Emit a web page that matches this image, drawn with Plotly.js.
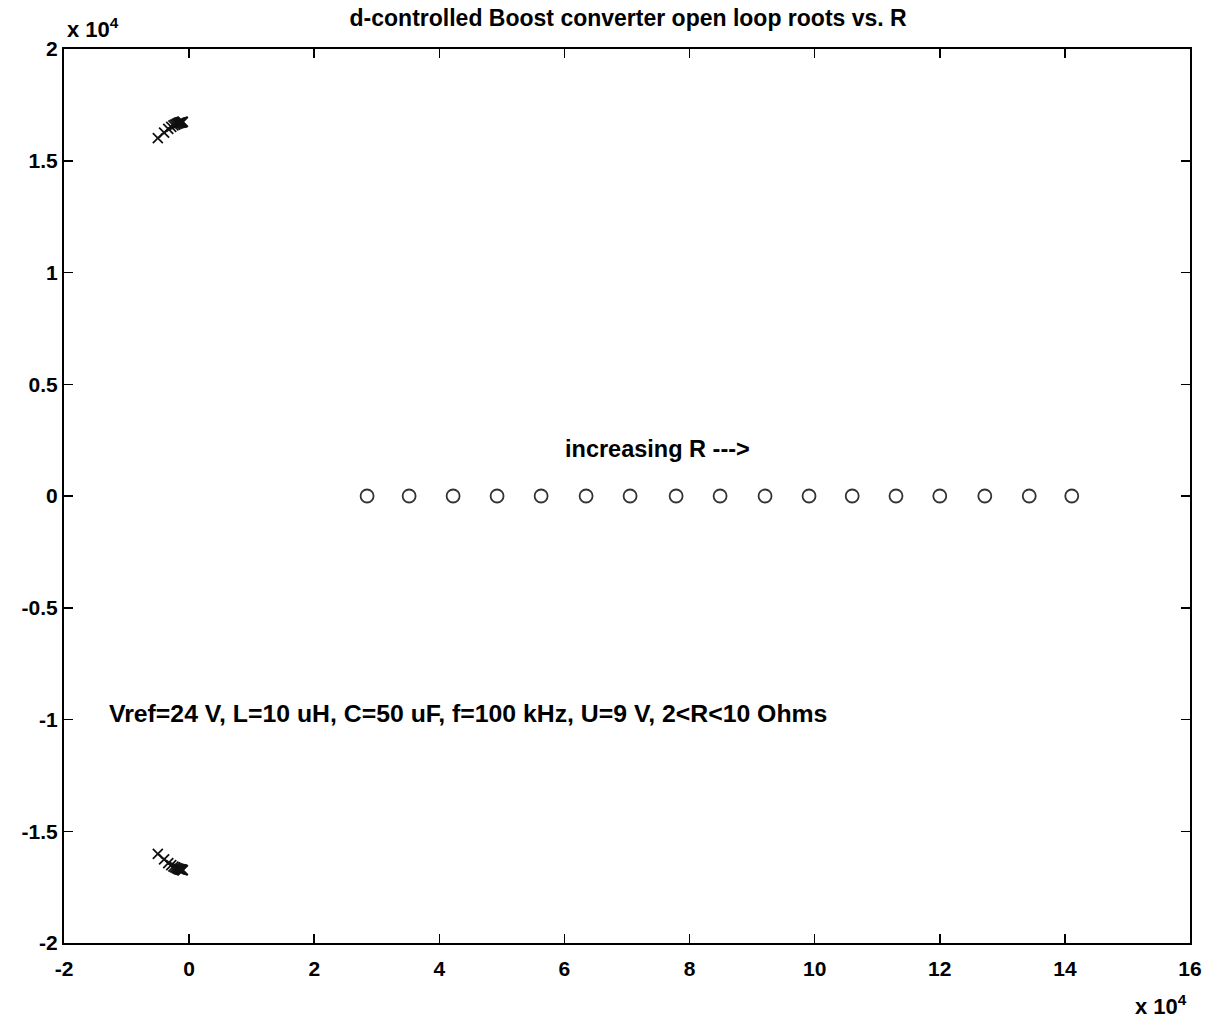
<!DOCTYPE html>
<html>
<head>
<meta charset="utf-8">
<script src="https://cdn.plot.ly/plotly-3.0.1.min.js"></script>
<style>html,body{margin:0;padding:0;background:#fff;}#chart{width:1215px;height:1024px;}</style>
</head>
<body>
<div id="chart"></div>
<script>
// Load resistance values R (Ohms), 2 to 10 in steps of 0.5
const R = [2, 2.5, 3, 3.5, 4, 4.5, 5, 5.5, 6, 6.5, 7, 7.5, 8, 8.5, 9, 9.5, 10];
// Open-loop poles (rad/s), upper branch; lower branch is the conjugate
const poleReal = [-5000, -4000, -3333, -2857, -2500, -2222, -2000, -1818, -1667, -1538, -1429, -1333, -1250, -1176, -1111, -1053, -1000];
const poleImag = [16010, 16260, 16430, 16520, 16580, 16620, 16650, 16670, 16690, 16700, 16710, 16720, 16720, 16730, 16730, 16740, 16740];
// Right-half-plane zeros (rad/s)
const zeroReal = [28450, 35170, 42200, 49230, 56270, 63460, 70490, 77850, 84880, 92070, 99100, 106000, 113000, 120000, 127200, 134300, 141100];
const zeroImag = [0, 0, 0, 0, 0, 0, 0, 0, 0, 0, 0, 0, 0, 0, 0, 0, 0];
// Axis ticks (in units of 1e4)
const xTickVals = [-20000, 0, 20000, 40000, 60000, 80000, 100000, 120000, 140000, 160000];
const xTickText = ['-2', '0', '2', '4', '6', '8', '10', '12', '14', '16'];
const yTickVals = [-20000, -15000, -10000, -5000, 0, 5000, 10000, 15000, 20000];
const yTickText = ['-2', '-1.5', '-1', '-0.5', '0', '0.5', '1', '1.5', '2'];

const FONT = 'Liberation Sans, Arial, sans-serif';
const TXT = {family: FONT, size: 22, color: '#000', weight: 'bold'};
const TICK = {family: FONT, size: 21, color: '#000', weight: 'bold'};

const traces = [
  {
    x: poleReal, y: poleImag, type: 'scatter', mode: 'markers',
    marker: {symbol: 'x-thin-open', size: 10, color: '#111', line: {width: 1.8, color: '#111'}},
    hoverinfo: 'x+y', showlegend: false
  },
  {
    x: poleReal, y: poleImag.map(v => -v), type: 'scatter', mode: 'markers',
    marker: {symbol: 'x-thin-open', size: 10, color: '#111', line: {width: 1.8, color: '#111'}},
    hoverinfo: 'x+y', showlegend: false
  },
  {
    x: zeroReal, y: zeroImag, type: 'scatter', mode: 'markers',
    marker: {symbol: 'circle-open', size: 13, color: '#333', line: {width: 1.8, color: '#333'}},
    hoverinfo: 'x+y', showlegend: false
  }
];

const layout = {
  width: 1215, height: 1024,
  margin: {l: 64, r: 25, t: 49, b: 81},
  paper_bgcolor: '#fff', plot_bgcolor: '#fff',
  font: TXT,
  title: {text: 'd-controlled Boost converter open loop roots vs. R', x: 0.517, xanchor: 'center', y: 0.982, yanchor: 'middle', font: Object.assign({}, TXT, {size: 23})},
  xaxis: {
    range: [-20000, 160000], tickmode: 'array', tickvals: xTickVals, ticktext: xTickText,
    showgrid: false, zeroline: false, showline: true, linecolor: '#000', linewidth: 2,
    mirror: 'ticks', ticks: 'inside', ticklen: 9, tickwidth: 1.5, tickcolor: '#000',
    ticklabelstandoff: 6, tickfont: TICK
  },
  yaxis: {
    range: [-20000, 20000], tickmode: 'array', tickvals: yTickVals, ticktext: yTickText,
    showgrid: false, zeroline: false, showline: true, linecolor: '#000', linewidth: 2,
    mirror: 'ticks', ticks: 'inside', ticklen: 9, tickwidth: 1.5, tickcolor: '#000',
    tickfont: TICK
  },
  annotations: [
    {text: 'x 10<sup>4</sup>', xref: 'paper', yref: 'paper', x: 0.001, y: 1.0, xanchor: 'left', yanchor: 'bottom', yshift: 5, showarrow: false, font: TXT},
    {text: 'x 10<sup>4</sup>', xref: 'paper', yref: 'paper', x: 0.999, y: 0, xanchor: 'right', yanchor: 'top', yshift: -46, showarrow: false, font: TXT},
    {text: 'increasing R --->', x: 59800, y: 2100, xref: 'x', yref: 'y', xanchor: 'left', yanchor: 'middle', showarrow: false, font: Object.assign({}, TXT, {size: 23.5})},
    {text: 'Vref=24 V, L=10 uH, C=50 uF, f=100 kHz, U=9 V, 2<R<10 Ohms', x: -13100, y: -9750, xref: 'x', yref: 'y', xanchor: 'left', yanchor: 'middle', showarrow: false, font: Object.assign({}, TXT, {size: 24.8})}
  ]
};

Plotly.newPlot('chart', traces, layout, {displayModeBar: false, staticPlot: true});
</script>
</body>
</html>
